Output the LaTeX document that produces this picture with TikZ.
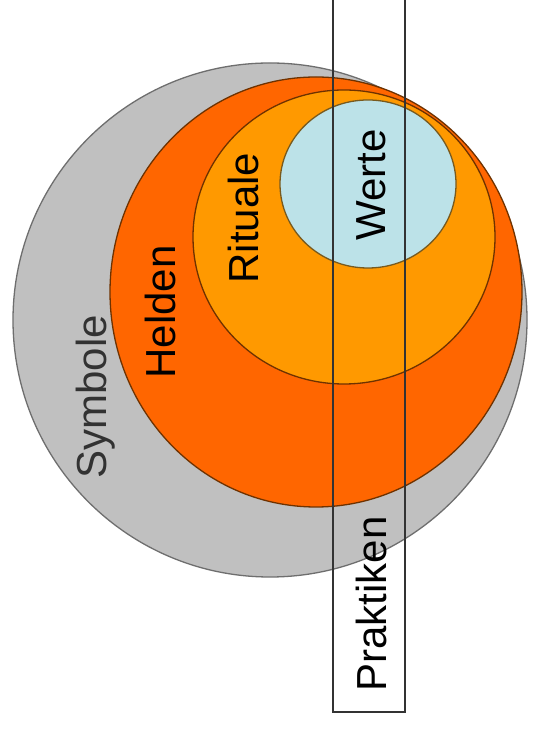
\documentclass[tikz,border=0pt]{standalone}
\usepackage{fontspec}
\setmainfont{Liberation Sans}
\definecolor{symgray}{RGB}{192,192,192}
\definecolor{symedge}{RGB}{110,110,110}
\definecolor{heldor}{RGB}{255,102,0}
\definecolor{ritor}{RGB}{255,153,0}
\definecolor{werteblue}{RGB}{188,226,232}
\definecolor{ringedge}{RGB}{110,50,0}
\definecolor{werteedge}{RGB}{120,90,30}
\definecolor{symtext}{RGB}{50,50,50}
\begin{document}
\begin{tikzpicture}[x=1pt,y=1pt,
  lbl/.style={rotate=90,anchor=base,inner sep=0pt,font=\fontsize{42}{48}\selectfont},
  ring/.style={line width=1.3pt}]
\useasboundingbox (0,0) rectangle (536,733);
% layers
\fill[white] (0,0) rectangle (536,733);
\filldraw[ring,fill=symgray,draw=symedge] (270,413) circle [radius=257pt];
\filldraw[ring,fill=heldor,draw=ringedge] (316,441) ellipse [x radius=206pt, y radius=215pt];
\filldraw[ring,fill=ritor,draw=ringedge] (344,496) ellipse [x radius=151pt, y radius=147pt];
\filldraw[ring,fill=werteblue,draw=werteedge] (368,549) ellipse [x radius=88pt, y radius=84pt];
% Praktiken column
\coordinate (pTL) at (333,733);
\coordinate (pBL) at (333,21);
\coordinate (pBR) at (405,21);
\coordinate (pTR) at (405,733);
\draw[line width=1.2pt,draw=black!80] (pTL) -- (pBL) -- (pBR) -- (pTR);
% labels
\node[lbl,text=symtext] (symbole) at (106,336) {Symbole};
\node[lbl] (helden) at (175,421) {Helden};
\node[lbl] (rituale) at (258,515) {Rituale};
\node[lbl] (werte) at (385,548) {Werte};
\node[lbl] (praktiken) at (386,129) {Praktiken};
\end{tikzpicture}
\end{document}
